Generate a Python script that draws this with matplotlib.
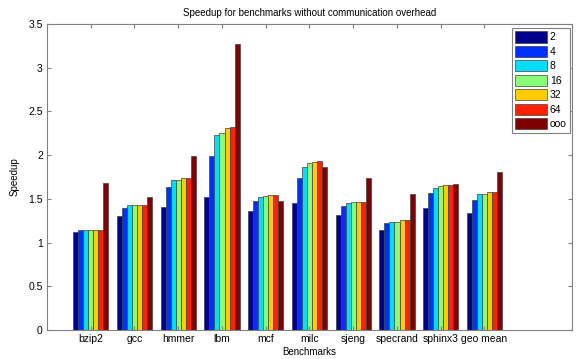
import numpy as np
import matplotlib
matplotlib.use('Agg')
import matplotlib.pyplot as plt

plt.rcParams['font.family'] = ['Liberation Sans', 'DejaVu Sans']

benchmarks = ['bzip2', 'gcc', 'hmmer', 'lbm', 'mcf', 'milc', 'sjeng', 'specrand', 'sphinx3', 'geo mean']
series = ['2', '4', '8', '16', '32', '64', 'ooo']
colors = ['#00008C', '#0030FF', '#00DDFF', '#88FF77', '#FFCC00', '#FF2200', '#7F0000']

s2 = [1.12, 1.30, 1.41, 1.52, 1.36, 1.45, 1.31, 1.14, 1.40, 1.335]
s4 = [1.14, 1.40, 1.63, 1.99, 1.48, 1.74, 1.415, 1.225, 1.57, 1.49]
s8 = [1.145, 1.435, 1.71, 2.23, 1.52, 1.865, 1.45, 1.24, 1.625, 1.55]
s16 = [1.145, 1.435, 1.72, 2.25, 1.53, 1.91, 1.46, 1.24, 1.645, 1.56]
s32 = [1.145, 1.435, 1.74, 2.31, 1.54, 1.92, 1.46, 1.255, 1.655, 1.575]
s64 = [1.145, 1.435, 1.74, 2.32, 1.54, 1.93, 1.46, 1.255, 1.655, 1.575]
sooo = [1.685, 1.52, 1.99, 3.27, 1.48, 1.865, 1.74, 1.56, 1.675, 1.81]
data = [s2, s4, s8, s16, s32, s64, sooo]

fig = plt.figure(figsize=[5.76, 3.59], dpi=100, facecolor='White')
ax = fig.add_axes([0.0816, 0.081, 0.9114, 0.852])

x = np.arange(1, len(benchmarks) + 1)
nb = len(series); bw = 0.81 / nb
for i in range(nb):
	ax.bar(x - 0.405 + bw * (i + 0.5), data[i], bw, color=colors[i], edgecolor='#404040', linewidth=0.5, label=series[i])

ax.set_xlim([0, 12]); ax.set_ylim([0, 3.5])
ax.set_xticks(x); ax.set_xticklabels(benchmarks, fontsize=7.5)
ax.set_yticks(np.arange(0, 3.51, 0.5)); ax.set_yticklabels(['0', '0.5', '1', '1.5', '2', '2.5', '3', '3.5'], fontsize=7.5)
ax.tick_params(axis='both', which='major', direction='in', left=True, right=True, bottom=True, top=True, length=3, color='#808080', pad=3)
for sp in ax.spines.values():
	sp.set_color('#808080'); sp.set_linewidth(0.8)
ax.set_title('Speedup for benchmarks without communication overhead', fontsize=7, pad=6)
ax.set_xlabel('Benchmarks', fontsize=7, labelpad=2)
ax.set_ylabel('Speedup', fontsize=7, labelpad=6)

# legend box in the upper right corner, MATLAB style
leg = ax.legend(loc='upper right', fontsize=7.5, handlelength=3.0, handleheight=1.3, borderpad=0.3, labelspacing=0.3, handletextpad=0.3, fancybox=False, framealpha=1, borderaxespad=0, bbox_to_anchor=(0.996, 0.987))
leg.get_frame().set_edgecolor('#808080'); leg.get_frame().set_linewidth(0.8)

plt.savefig('out.png', dpi=100)
